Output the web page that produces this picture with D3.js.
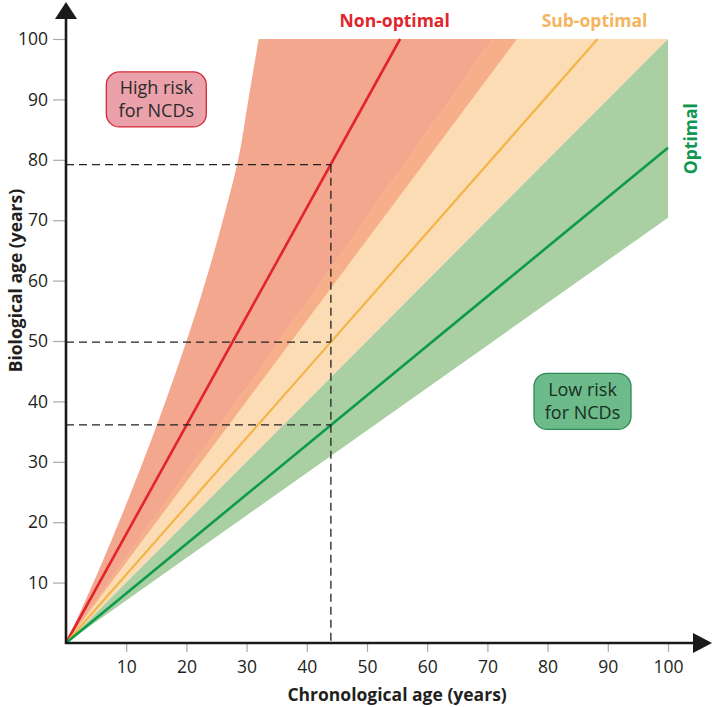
<!DOCTYPE html>
<html>
<head>
<meta charset="utf-8">
<script src="https://cdn.jsdelivr.net/npm/d3@7"></script>
<style>
  body { margin: 0; background: #fff; }
  text { font-family: "Open Sans", Lato, sans-serif; }
</style>
</head>
<body>
<div id="chart"></div>
<script>
// Tick values
const xTicks = [10, 20, 30, 40, 50, 60, 70, 80, 90, 100];
const yTicks = [10, 20, 30, 40, 50, 60, 70, 80, 90, 100];

// Centre lines, [chronological, biological]
const nonOptimalLine = [[0, 0], [55.5, 100]];
const subOptimalLine = [[0, 0], [88.3, 100]];
const optimalLine = [[0, 0], [100, 82]];

// Band edges
const nonOptimalUpper = [[0, 0], [5, 11], [10.3, 23.7], [16.6, 40.2], [22.3, 57], [26.6, 72], [28.6, 80], [30.3, 90], [32, 100]];
const nonOptimalLower = [[0, 0], [74.9, 100]];
const subOptimalUpper = [[0, 0], [70.9, 100]];
const subOptimalLower = [[0, 0], [100, 100]];
const optimalUpper = [[0, 0], [100, 100]];
const optimalLower = [[0, 0], [100, 70.4]];

// Example person
const markerChron = 44;
const markerBio = [79.2, 49.8, 36.1];

const margin = { top: 39, right: 44, bottom: 64, left: 66 };
const width = 712 - margin.left - margin.right;
const height = 707 - margin.top - margin.bottom;

const svg = d3.select("#chart")
  .append("svg")
    .attr("width", 712)
    .attr("height", 707);

const g = svg.append("g")
    .attr("transform", `translate(${margin.left},${margin.top})`);

const x = d3.scaleLinear().domain([0, 100]).range([0, width]);
const y = d3.scaleLinear().domain([0, 100]).range([height, 0]);

const line = d3.line().x(d => x(d[0])).y(d => y(d[1]));
const smooth = d3.line().x(d => x(d[0])).y(d => y(d[1])).curve(d3.curveMonotoneY);

// polygon between an upper edge and a lower edge
function band(upper, lower, curved) {
  const top = (curved ? smooth : line)(upper);
  const rest = lower.slice().reverse().map(d => `L${x(d[0])},${y(d[1])}`).join("");
  return top + rest + "Z";
}

g.append("path").attr("d", band(nonOptimalUpper, nonOptimalLower, true)).attr("fill", "#f3a78f");
g.append("path").attr("d", band(subOptimalUpper, subOptimalLower)).attr("fill", "#fbdcb5");
g.append("path").attr("d", band(subOptimalUpper, nonOptimalLower)).attr("fill", "#f6af88");
g.append("path").attr("d", band(optimalUpper, optimalLower)).attr("fill", "#aacfa3");

// centre lines
g.append("path").attr("d", line(nonOptimalLine)).attr("stroke", "#e2242b").attr("stroke-width", 2.6).attr("fill", "none");
g.append("path").attr("d", line(subOptimalLine)).attr("stroke", "#f4b548").attr("stroke-width", 2.2).attr("fill", "none");
g.append("path").attr("d", line(optimalLine)).attr("stroke", "#0e9a4b").attr("stroke-width", 2.6).attr("fill", "none");

// dashed guides
g.selectAll(".hguide")
  .data(markerBio)
  .enter().append("line")
    .attr("class", "hguide")
    .attr("x1", 0).attr("x2", x(markerChron))
    .attr("y1", d => y(d)).attr("y2", d => y(d))
    .attr("stroke", "#222").attr("stroke-width", 1.3).attr("stroke-dasharray", "8,5");

g.append("line")
  .attr("x1", x(markerChron)).attr("x2", x(markerChron))
  .attr("y1", y(d3.max(markerBio))).attr("y2", height)
  .attr("stroke", "#222").attr("stroke-width", 1.3).attr("stroke-dasharray", "8,5");

// axes
const xAxis = g.append("g")
    .attr("transform", `translate(0,${height})`)
    .call(d3.axisBottom(x).tickValues(xTicks).tickSize(9).tickPadding(9));
const yAxis = g.append("g")
    .call(d3.axisLeft(y).tickValues(yTicks).tickSize(13).tickPadding(5));

[xAxis, yAxis].forEach(a => {
  a.select(".domain").remove();
  a.selectAll(".tick line").attr("stroke", "#aaa").attr("stroke-width", 1.2);
  a.selectAll(".tick text")
    .attr("fill", "#231f20")
    .style("font-family", "'Open Sans', sans-serif")
    .style("font-size", "17.5px");
});

// axis lines with arrow heads
g.append("line").attr("x1", 0).attr("x2", 0).attr("y1", height + 1).attr("y2", -22)
  .attr("stroke", "#1a1a1a").attr("stroke-width", 2.6);
g.append("line").attr("x1", -1).attr("x2", width + 28).attr("y1", height).attr("y2", height)
  .attr("stroke", "#1a1a1a").attr("stroke-width", 2.6);
g.append("path").attr("d", `M0,-37L-11,-20L11,-20Z`).attr("fill", "#1a1a1a");
g.append("path").attr("d", `M${width + 44},${height}L${width + 25},${height - 10}L${width + 25},${height + 10}Z`).attr("fill", "#1a1a1a");

// axis titles
svg.append("text")
  .attr("x", margin.left + x(55))
  .attr("y", 701)
  .attr("text-anchor", "middle")
  .style("font-weight", "bold").style("font-size", "17.5px").attr("fill", "#231f20")
  .text("Chronological age (years)");

svg.append("text")
  .attr("transform", `translate(22,${margin.top + y(60)}) rotate(-90)`)
  .attr("text-anchor", "middle")
  .style("font-weight", "bold").style("font-size", "17.5px").attr("fill", "#231f20")
  .text("Biological age (years)");

// series labels
g.append("text")
  .attr("x", x(54.6)).attr("y", -12)
  .attr("text-anchor", "middle")
  .style("font-weight", "bold").style("font-size", "17.5px").attr("fill", "#e1252c")
  .text("Non-optimal");
g.append("text")
  .attr("x", x(87.8)).attr("y", -12)
  .attr("text-anchor", "middle")
  .style("font-weight", "bold").style("font-size", "17.5px").attr("fill", "#f5b45e")
  .text("Sub-optimal");
g.append("text")
  .attr("transform", `translate(${width + 29},${y(83.5)}) rotate(-90)`)
  .attr("text-anchor", "middle")
  .style("font-weight", "bold").style("font-size", "17.5px").attr("fill", "#0f9650")
  .text("Optimal");

// risk boxes
function riskBox(cx, cy, w, h, fill, stroke, textFill, lines) {
  const b = g.append("g").attr("transform", `translate(${x(cx)},${y(cy)})`);
  b.append("rect")
    .attr("x", -w / 2).attr("y", -h / 2).attr("width", w).attr("height", h)
    .attr("rx", 13).attr("fill", fill).attr("stroke", stroke).attr("stroke-width", 1.3);
  b.selectAll("text")
    .data(lines)
    .enter().append("text")
      .attr("text-anchor", "middle")
      .attr("y", (d, i) => (i - 0.5) * 23 + 6.5)
      .style("font-size", "18px").attr("fill", textFill)
      .text(d => d);
}
riskBox(15, 90, 100, 55, "#eaa1a9", "#d42a35", "#2b2b2b", ["High risk", "for NCDs"]);
riskBox(85.8, 40, 97, 56, "#6dba8b", "#2f8c57", "#17301f", ["Low risk", "for NCDs"]);
</script>
</body>
</html>
